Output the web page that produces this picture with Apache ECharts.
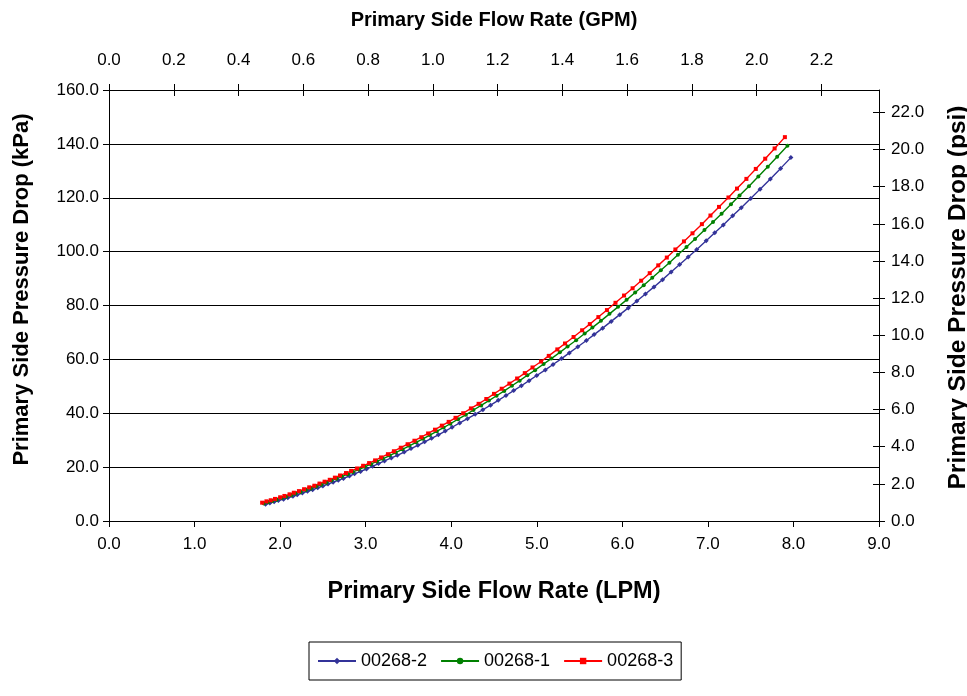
<!DOCTYPE html>
<html><head><meta charset="utf-8">
<script src="https://cdn.jsdelivr.net/npm/echarts@6/dist/echarts.min.js"></script>
<style>html,body{margin:0;padding:0;background:#fff}#c{width:967px;height:696px}</style>
</head><body><div id="c"></div>
<script>
const seriesNames = ['00268-2', '00268-1', '00268-3'];
const seriesColors = ['#333399', '#008000', '#FF0000'];

const flowB = [1.83,1.88,1.93,1.98,2.04,2.09,2.15,2.20,2.26,2.32,
  2.38,2.44,2.50,2.56,2.62,2.68,2.74,2.81,2.87,2.94,
  3.01,3.08,3.15,3.22,3.30,3.37,3.45,3.53,3.61,3.69,
  3.77,3.85,3.93,4.01,4.10,4.19,4.28,4.37,4.46,4.55,
  4.64,4.73,4.82,4.91,5.00,5.10,5.19,5.29,5.38,5.48,
  5.58,5.67,5.77,5.87,5.97,6.07,6.17,6.27,6.37,6.47,
  6.57,6.67,6.77,6.87,6.98,7.08,7.18,7.29,7.39,7.50,
  7.61,7.73,7.85,7.97];
const dpB = [6.2,6.7,7.1,7.6,8.1,8.6,9.2,9.7,10.4,11.0,
  11.6,12.3,13.0,13.7,14.4,15.1,15.8,16.7,17.5,18.4,
  19.3,20.3,21.3,22.3,23.4,24.4,25.6,26.9,28.1,29.4,
  30.7,32.0,33.4,34.8,36.4,38.0,39.6,41.3,43.0,44.8,
  46.6,48.4,50.2,52.1,54.0,56.1,58.1,60.3,62.4,64.7,
  67.0,69.2,71.6,74.1,76.6,79.1,81.7,84.3,86.9,89.6,
  92.4,95.2,98.0,100.8,104.0,107.0,109.9,113.3,116.3,119.7,
  123.2,127.0,130.9,134.9];

const flowG = [1.81,1.86,1.91,1.96,2.02,2.07,2.13,2.18,2.24,2.30,
  2.36,2.42,2.48,2.54,2.60,2.66,2.72,2.79,2.85,2.92,
  2.99,3.06,3.13,3.20,3.28,3.35,3.43,3.51,3.59,3.67,
  3.75,3.83,3.91,3.99,4.08,4.17,4.26,4.35,4.44,4.53,
  4.62,4.71,4.80,4.89,4.98,5.08,5.17,5.27,5.36,5.46,
  5.56,5.65,5.75,5.85,5.95,6.05,6.15,6.25,6.35,6.45,
  6.55,6.65,6.75,6.85,6.96,7.06,7.16,7.27,7.37,7.48,
  7.59,7.70,7.81,7.93];
const dpG = [6.5,7.0,7.4,7.9,8.5,9.0,9.6,10.2,10.8,11.5,
  12.1,12.8,13.5,14.2,15.0,15.7,16.5,17.4,18.2,19.1,
  20.1,21.1,22.1,23.1,24.3,25.4,26.6,27.9,29.2,30.5,
  31.9,33.3,34.7,36.1,37.8,39.4,41.2,42.9,44.7,46.5,
  48.3,50.2,52.1,54.1,56.0,58.3,60.3,62.6,64.8,67.1,
  69.6,71.8,74.3,76.9,79.5,82.1,84.8,87.5,90.3,93.1,
  95.9,98.8,101.7,104.7,108.0,111.0,114.1,117.6,120.8,124.3,
  127.9,131.5,135.2,139.3];

const flowR = [1.79,1.84,1.89,1.94,2.00,2.05,2.11,2.16,2.22,2.28,
  2.34,2.40,2.46,2.52,2.58,2.64,2.70,2.77,2.83,2.90,
  2.97,3.04,3.11,3.18,3.26,3.33,3.41,3.49,3.57,3.65,
  3.73,3.81,3.89,3.97,4.05,4.14,4.23,4.32,4.41,4.50,
  4.59,4.68,4.77,4.86,4.95,5.05,5.14,5.24,5.33,5.43,
  5.53,5.62,5.72,5.82,5.92,6.02,6.12,6.22,6.32,6.42,
  6.52,6.62,6.72,6.82,6.93,7.03,7.13,7.24,7.34,7.45,
  7.56,7.67,7.78,7.90];
const dpR = [6.8,7.3,7.7,8.2,8.8,9.3,9.9,10.5,11.1,11.8,
  12.5,13.1,13.9,14.6,15.3,16.1,16.9,17.8,18.6,19.5,
  20.5,21.5,22.5,23.6,24.8,25.9,27.2,28.5,29.8,31.1,
  32.5,33.9,35.4,36.8,38.3,40.0,41.8,43.5,45.3,47.2,
  49.1,51.0,52.9,54.9,57.0,59.2,61.3,63.7,65.9,68.3,
  70.8,73.1,75.7,78.3,81.0,83.7,86.4,89.2,92.0,94.9,
  97.8,100.8,103.8,106.8,110.2,113.4,116.6,120.1,123.4,127.0,
  130.7,134.5,138.3,142.5];

const gpmTicks = [0, 0.2, 0.4, 0.6, 0.8, 1.0, 1.2, 1.4, 1.6, 1.8, 2.0, 2.2];
const psiTicks = [0, 2, 4, 6, 8, 10, 12, 14, 16, 18, 20, 22];

const LPM_PER_GPM = 3.78541;
const KPA_PER_PSI = 6.89476;
const X_MAX = 9, Y_MAX = 160;

const FONT = '"Liberation Sans", Arial, sans-serif';
const lbl = {color: '#000', fontFamily: FONT, fontSize: 17};
const nameStyle = (size, padding) => ({color: '#000', fontFamily: FONT, fontSize: size, fontWeight: 'bold', padding: padding || 0});
const blackLine = {show: true, onZero: false, lineStyle: {color: '#000', width: 1}};
const noLine = {show: false, onZero: false};
const fmt = v => Number(v).toFixed(1);

const gridRect = {left: 109, right: 88, top: 90, bottom: 175, containLabel: false, outerBoundsMode: 'none'};

const chart = echarts.init(document.getElementById('c'), null, {renderer: 'canvas'});
chart.setOption({
  animation: false,
  backgroundColor: '#fff',
  grid: [Object.assign({}, gridRect), Object.assign({}, gridRect)],
  legend: {
    data: seriesNames,
    bottom: 16,
    left: 309,
    borderColor: '#000',
    borderWidth: 1,
    padding: [10, 8],
    itemGap: 13,
    itemWidth: 38,
    itemHeight: 8,
    textStyle: {color: '#000', fontFamily: FONT, fontSize: 18}
  },
  xAxis: [
    {
      type: 'value', gridIndex: 0, position: 'bottom', min: 0, max: X_MAX, interval: 1,
      axisLine: blackLine,
      axisTick: {show: true, inside: false, length: 6, lineStyle: {color: '#000'}},
      axisLabel: Object.assign({formatter: fmt, margin: 15}, lbl),
      splitLine: {show: false},
      name: 'Primary Side Flow Rate (LPM)', nameLocation: 'middle', nameGap: 59, nameTextStyle: nameStyle(23.5)
    },
    {
      type: 'value', gridIndex: 1, position: 'top', min: 0, max: X_MAX / LPM_PER_GPM,
      axisLine: blackLine,
      axisTick: {show: true, inside: false, length: 6, customValues: gpmTicks, lineStyle: {color: '#000'}},
      axisLabel: Object.assign({formatter: fmt, margin: 21, customValues: gpmTicks}, lbl),
      splitLine: {show: false},
      name: 'Primary Side Flow Rate (GPM)', nameLocation: 'middle', nameGap: 60, nameTextStyle: nameStyle(20)
    },
    {
      type: 'value', gridIndex: 0, position: 'top', min: 0, max: X_MAX / LPM_PER_GPM,
      axisLine: noLine,
      axisTick: {show: true, inside: true, length: 6, customValues: gpmTicks, lineStyle: {color: '#000'}},
      axisLabel: {show: false},
      splitLine: {show: false}
    }
  ],
  yAxis: [
    {
      type: 'value', gridIndex: 0, position: 'left', min: 0, max: Y_MAX, interval: 20,
      axisLine: blackLine,
      axisTick: {show: true, inside: false, length: 6, lineStyle: {color: '#000'}},
      axisLabel: Object.assign({formatter: fmt, margin: 10}, lbl),
      splitLine: {show: true, lineStyle: {color: '#000', width: 1}},
      name: 'Primary Side Pressure Drop (kPa)', nameLocation: 'middle', nameRotate: 90, nameGap: 76,
      nameTextStyle: nameStyle(22, [0, 0, 0, 32])
    },
    {
      type: 'value', gridIndex: 1, position: 'right', min: 0, max: Y_MAX / KPA_PER_PSI,
      axisLine: blackLine,
      axisTick: {show: true, inside: false, length: 6, customValues: psiTicks, lineStyle: {color: '#000'}},
      axisLabel: Object.assign({formatter: fmt, margin: 12, customValues: psiTicks}, lbl),
      splitLine: {show: false},
      name: 'Primary Side Pressure Drop (psi)', nameLocation: 'middle', nameRotate: 90, nameGap: 67,
      nameTextStyle: nameStyle(24.5, [0, 0, 0, 16])
    },
    {
      type: 'value', gridIndex: 0, position: 'right', min: 0, max: Y_MAX / KPA_PER_PSI,
      axisLine: noLine,
      axisTick: {show: true, inside: true, length: 6, customValues: psiTicks, lineStyle: {color: '#000'}},
      axisLabel: {show: false},
      splitLine: {show: false}
    }
  ],
  series: [
    {name: seriesNames[0], type: 'line', xAxisIndex: 0, yAxisIndex: 0,
     data: flowB.map((x, i) => [x, dpB[i]]), symbol: 'diamond', symbolSize: 5,
     itemStyle: {color: seriesColors[0]}, lineStyle: {color: seriesColors[0], width: 1.4}},
    {name: seriesNames[1], type: 'line', xAxisIndex: 0, yAxisIndex: 0,
     data: flowG.map((x, i) => [x, dpG[i]]), symbol: 'circle', symbolSize: 4,
     itemStyle: {color: seriesColors[1]}, lineStyle: {color: seriesColors[1], width: 1.4}},
    {name: seriesNames[2], type: 'line', xAxisIndex: 0, yAxisIndex: 0,
     data: flowR.map((x, i) => [x, dpR[i]]), symbol: 'rect', symbolSize: 4,
     itemStyle: {color: seriesColors[2]}, lineStyle: {color: seriesColors[2], width: 1.4}}
  ]
});
</script>
</body></html>
